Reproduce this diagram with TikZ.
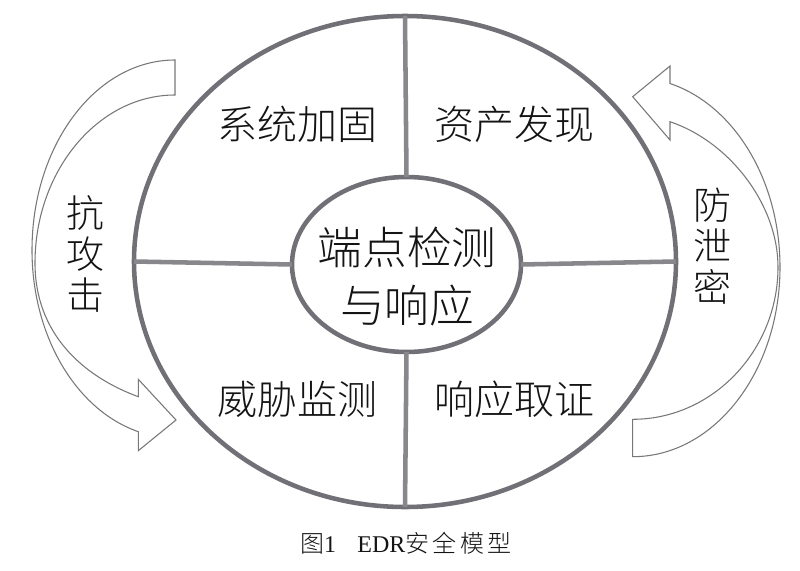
\documentclass[tikz,border=0pt]{standalone}
\usepackage{fontspec}
\setmainfont{Liberation Serif}
\newfontfamily\cjk{Noto Sans CJK SC}[UprightFont={* Light}]
\usetikzlibrary{shapes.geometric}
\definecolor{ringgray}{RGB}{112,112,118}
\definecolor{spokegray}{RGB}{135,135,140}
\definecolor{arrowgray}{RGB}{120,120,120}
\definecolor{txt}{RGB}{20,20,20}
\begin{document}
\begin{tikzpicture}[x=0.75pt,y=-0.75pt,
  ring/.style={draw=ringgray,line width=3.4pt,ellipse,inner sep=0pt,outer sep=0pt},
  spoke/.style={draw=spokegray,line width=3.4pt},
  bigarrow/.style={draw=arrowgray,line width=0.8pt,fill=white,line join=miter},
  quad/.style={font=\cjk\fontsize{30pt}{36pt}\selectfont,text=txt,inner sep=0pt},
  core/.style={font=\cjk\fontsize{33.5pt}{43.5pt}\selectfont,text=txt,inner sep=0pt,align=center},
  side/.style={font=\cjk\fontsize{28.5pt}{30.75pt}\selectfont,text=txt,inner sep=0pt,align=center},
  captxt/.style={font=\fontsize{18pt}{20pt}\selectfont,text=txt,inner sep=0pt}]
\fill[white] (0,0) rectangle (800,571);
\useasboundingbox (0,0) rectangle (800,571);

% curved arrows
\draw[bigarrow] (175,60) .. controls (96,60) and (32,145) .. (32,250)
  .. controls (32,336) and (76,410) .. (138.3,431.7)
  -- (138.3,450.7) -- (176,420) -- (138.3,379.3) -- (138.3,396.7)
  .. controls (82,376) and (35,333) .. (35,263)
  .. controls (35,171) and (98,95) .. (175,95) -- cycle;
\draw[bigarrow] (670,83.5) .. controls (734.7,105.3) and (780,180.9) .. (780,267)
  .. controls (780,371.8) and (714.1,456.7) .. (632.7,456.7)
  -- (632.7,419.3)
  .. controls (712.5,419.3) and (778,350.6) .. (778,267)
  .. controls (778,205) and (730,142) .. (670,121.7)
  -- (670,140) -- (632.7,96.7) -- (670,66) -- cycle;

% rings
\node[ring,minimum width=406.5pt,minimum height=368.25pt] (outer) at (405,261.5) {};
\node[ring,minimum width=171.75pt,minimum height=131.25pt] (inner) at (406.5,264.5) {};

% spokes
\draw[spoke] (outer.north) -- (inner.north);
\draw[spoke] (inner.south) -- (outer.south);
\draw[spoke] (outer.west) -- (inner.west);
\draw[spoke] (inner.east) -- (outer.east);

% texts
\node[quad] (q1) at (297.5,124) {系统加固};
\node[quad] (q2) at (514,124) {资产发现};
\node[quad] (q3) at (297.5,399) {威胁监测};
\node[quad] (q4) at (514,399) {响应取证};
\node[core] (center) at (407,277) {端点检测\\与响应};
\node[side] (left) at (85,254) {抗\\攻\\击};
\node[side] (right) at (712,246.5) {防\\泄\\密};
\node[captxt] (cap) at (406,543) {{\cjk 图}1\hspace{16pt}EDR{\cjk 安\hspace{2.6pt}全\hspace{2.6pt}模\hspace{2.6pt}型}};
\end{tikzpicture}
\end{document}
